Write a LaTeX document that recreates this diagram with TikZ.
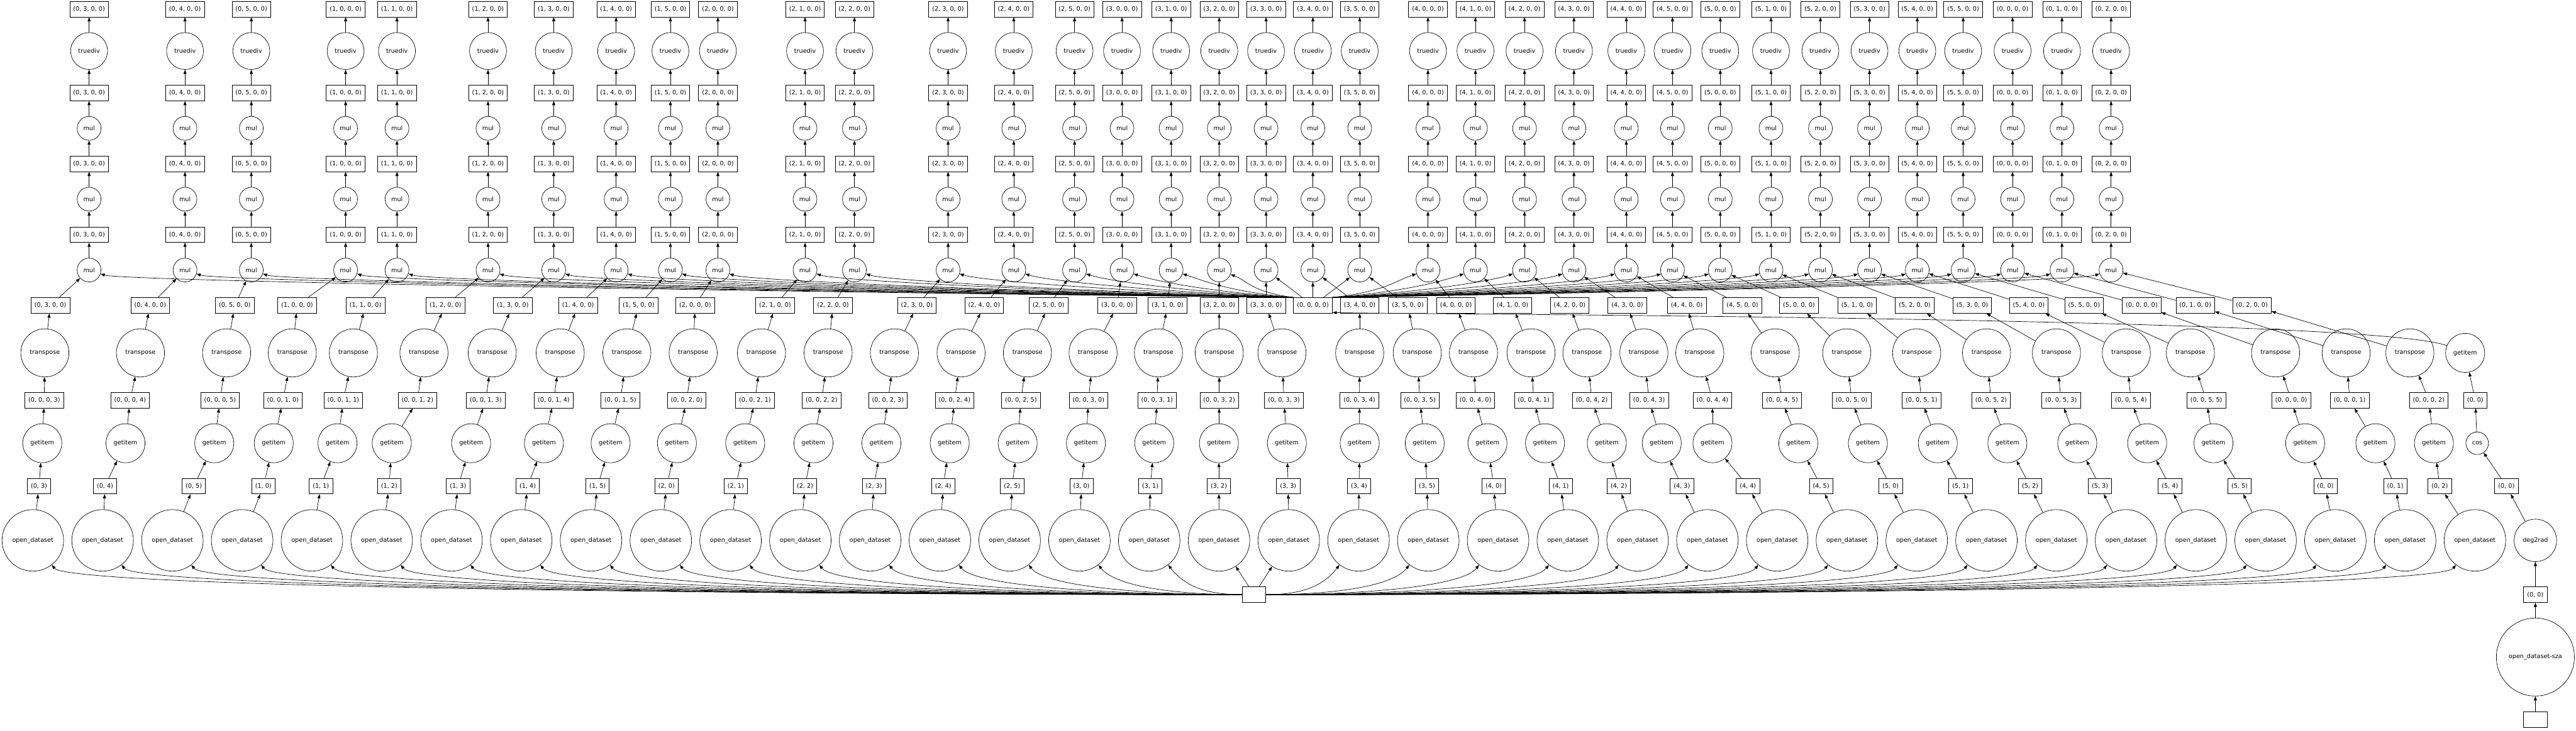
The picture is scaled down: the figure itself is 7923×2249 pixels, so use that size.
\documentclass[tikz,border=0pt]{standalone}
\usepackage{fontspec}
\setmainfont{DejaVu Sans}
\usetikzlibrary{arrows.meta}
\tikzset{
  fn/.style={circle, draw, inner sep=0pt, minimum size=#1},
  chunk/.style={rectangle, draw, inner xsep=8pt, inner ysep=0pt, minimum width=54pt, minimum height=36pt},
  edge/.style={-{Triangle[length=9.75pt,width=7pt]}},
}
\begin{document}
\begin{tikzpicture}[x=0.75pt, y=-0.75pt, line width=1pt, font=\fontsize{14pt}{17pt}\selectfont]
\useasboundingbox (0,0) rectangle (7923,2249);
% loader and the sza branch
\node[chunk] (root) at (3857,1830) {};
\node[chunk] (szaroot) at (7798,2214) {};
\node[fn=180pt] (sza) at (7798,2022) {open\_dataset-sza};
\node[chunk] (szaout) at (7798,1830) {(0, 0)};
\node[fn=98pt] (rad) at (7798,1663) {deg2rad};
\node[chunk] (radout) at (7709,1496) {(0, 0)};
\node[fn=52pt] (cos) at (7619,1364) {cos};
\node[chunk] (cosout) at (7613,1232) {(0, 0)};
\node[fn=90pt] (rgi) at (7582,1086) {getitem};
\node[chunk] (hub) at (4038,940) {(0, 0, 0, 0)};
\draw[edge] (szaroot) -- (sza);
\draw[edge] (sza) -- (szaout);
\draw[edge] (szaout) -- (rad);
\draw[edge] (rad) -- (radout);
\draw[edge] (radout) -- (cos);
\draw[edge] (cos) -- (cosout);
\draw[edge] (cosout) -- (rgi);
\draw[edge] (rgi) .. controls (7300,975) and (4300,967) .. (hub.-20);
% one column per chunk
\foreach \k/\i/\j/\xt/\xb/\xr/\xf/\xg/\xd in {
  0/0/3/274/155/138/136/130/120, 1/0/4/569/462/432/400/386/323,
  2/0/5/773/722/697/677/659/596, 3/1/0/1063/914/899/870/842/810,
  4/1/1/1221/1124/1087/1056/1038/987, 5/1/2/1501/1370/1304/1284/1205/1197,
  6/1/3/1703/1577/1514/1494/1449/1409, 7/1/4/1895/1778/1723/1703/1673/1623,
  8/1/5/2062/1964/1928/1908/1878/1838, 9/2/0/2208/2138/2132/2112/2082/2050,
  10/2/1/2476/2384/2342/2322/2292/2263, 11/2/2/2628/2562/2547/2527/2502/2476,
  12/2/3/2916/2820/2751/2731/2711/2688, 13/2/4/3118/3027/2956/2936/2921/2901,
  14/2/5/3305/3225/3160/3140/3130/3113, 15/3/0/3451/3436/3362/3348/3340/3326,
  16/3/1/3602/3591/3563/3559/3550/3538, 17/3/2/3750/3750/3750/3750/3749/3749,
  18/3/3/3894/3894/3943/3949/3958/3962, 19/3/4/4038/4182/4182/4181/4182/4180,
  20/3/5/4182/4330/4359/4367/4382/4389, 21/4/0/4392/4478/4532/4538/4575/4594,
  22/4/1/4538/4652/4709/4717/4752/4800, 23/4/2/4689/4828/4881/4896/4942/4979,
  24/4/3/4841/5005/5056/5072/5111/5173, 25/4/4/5002/5188/5228/5267/5267/5376,
  26/4/5/5144/5359/5460/5481/5531/5601, 27/5/0/5291/5533/5680/5695/5745/5815,
  28/5/1/5447/5712/5895/5910/5960/6030, 29/5/2/5599/5889/6110/6124/6174/6244,
  30/5/3/5750/6066/6325/6339/6389/6459, 31/5/4/5897/6240/6540/6554/6604/6674,
  32/5/5/6038/6410/6737/6786/6808/6888, 33/0/0/6190/6587/6999/7047/7090/7152,
  34/0/1/6342/6752/7216/7227/7306/7367, 35/0/2/6493/6926/7412/7470/7486/7504} {
  \pgfmathsetmacro\xo{101+214.6*\k}
  \node[fn=142pt] (od\k) at (\xo,1663) {open\_dataset};
  \node[chunk] (raw\k) at (\xd,1496) {(\i, \j)};
  \node[fn=90pt] (gi\k) at (\xg,1364) {getitem};
  \node[chunk] (sel\k) at (\xf,1232) {(0, 0, \i, \j)};
  \node[fn=111pt] (tr\k) at (\xr,1086) {transpose};
  \node[chunk] (tro\k) at (\xb,940) {(\i, \j, 0, 0)};
  \node[fn=55pt] (mulA\k) at (\xt,831) {mul};
  \node[chunk] (outA\k) at (\xt,722) {(\i, \j, 0, 0)};
  \node[fn=55pt] (mulB\k) at (\xt,613) {mul};
  \node[chunk] (outB\k) at (\xt,504) {(\i, \j, 0, 0)};
  \node[fn=55pt] (mulC\k) at (\xt,395) {mul};
  \node[chunk] (outC\k) at (\xt,286) {(\i, \j, 0, 0)};
  \node[fn=85pt] (div\k) at (\xt,157) {truediv};
  \node[chunk] (res\k) at (\xt,28) {(\i, \j, 0, 0)};
  \draw[edge] (od\k) -- (raw\k);
  \draw[edge] (raw\k) -- (gi\k);
  \draw[edge] (gi\k) -- (sel\k);
  \draw[edge] (sel\k) -- (tr\k);
  \draw[edge] (tr\k) -- (tro\k);
  \draw[edge] (tro\k) -- (mulA\k);
  \draw[edge] (mulA\k) -- (outA\k);
  \draw[edge] (outA\k) -- (mulB\k);
  \draw[edge] (mulB\k) -- (outB\k);
  \draw[edge] (outB\k) -- (mulC\k);
  \draw[edge] (mulC\k) -- (outC\k);
  \draw[edge] (outC\k) -- (div\k);
  \draw[edge] (div\k) -- (res\k);
  % loader fan
  \pgfmathsetmacro\dx{abs(\xo-3857)}
  \ifdim\dx pt<200pt
    \draw[edge] (root) -- (od\k);
  \else
    \pgfmathsetmacro\sg{\xo<3857 ? 1 : -1}
    \pgfmathsetmacro\cax{3857-\sg*0.45*\dx}
    \pgfmathsetmacro\cbx{\xo+\sg*min(110,0.45*\dx)}
    \ifdim\xo pt<3857pt
      \draw[edge] (root.west) .. controls (\cax,1830) and (\cbx,1805) .. (od\k);
    \else
      \draw[edge] (root.east) .. controls (\cax,1830) and (\cbx,1805) .. (od\k);
    \fi
  \fi
  % broadcast factor into the first mul
  \pgfmathsetmacro\dh{abs(\xt-4038)}
  \ifdim\dh pt<200pt
    \draw[edge] (hub) -- (mulA\k);
  \else
    \pgfmathsetmacro\hg{\xt<4038 ? 1 : -1}
    \pgfmathsetmacro\hax{4038-\hg*(60+0.45*\dh)}
    \pgfmathsetmacro\hbx{\xt+\hg*min(100,0.3*\dh)}
    \ifdim\xt pt<4038pt
      \draw[edge] (hub.north west) .. controls (\hax,898) and (\hbx,864) .. (mulA\k);
    \else
      \draw[edge] (hub.north east) .. controls (\hax,898) and (\hbx,864) .. (mulA\k);
    \fi
  \fi
}
\end{tikzpicture}
\end{document}
